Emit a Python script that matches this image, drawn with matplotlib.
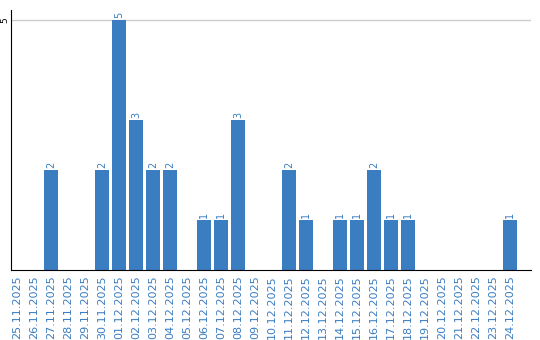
import matplotlib
matplotlib.use('Agg')
import matplotlib.pyplot as plt

dates = ['25.11.2025', '26.11.2025', '27.11.2025', '28.11.2025', '29.11.2025',
         '30.11.2025', '01.12.2025', '02.12.2025', '03.12.2025', '04.12.2025',
         '05.12.2025', '06.12.2025', '07.12.2025', '08.12.2025', '09.12.2025',
         '10.12.2025', '11.12.2025', '12.12.2025', '13.12.2025', '14.12.2025',
         '15.12.2025', '16.12.2025', '17.12.2025', '18.12.2025', '19.12.2025',
         '20.12.2025', '21.12.2025', '22.12.2025', '23.12.2025', '24.12.2025']
counts = [0, 0, 2, 0, 0, 2, 5, 3, 2, 2, 0, 1, 1, 3, 0,
          0, 2, 1, 0, 1, 1, 2, 1, 1, 0, 0, 0, 0, 0, 1]

blue = '#3b7dc1'

fig = plt.figure(figsize=(5.4, 3.4), dpi=100)
ax = fig.add_axes([11 / 540, 70 / 340, 520 / 540, 260 / 340])

x = list(range(len(dates)))
ax.bar(x, counts, width=0.82, color=blue, zorder=2)

# value labels on top of non-empty bars
for xi, c in zip(x, counts):
    if c > 0:
        ax.text(xi, c + 0.04, str(c), rotation=90, ha='center', va='bottom',
                fontsize=7, color=blue)

ax.set_xlim(-0.35, 30.24)
ax.set_ylim(0, 5.2)
ax.set_xticks(x)
ax.set_xticklabels(dates, rotation=90, fontsize=8, color=blue)
ax.set_yticks([5])
ax.set_yticklabels(['5'], rotation=90, fontsize=6.5, va='center')
ax.tick_params(axis='x', length=0, pad=4)
ax.tick_params(axis='y', length=0, pad=1)
ax.yaxis.grid(True, color='#cccccc', lw=1, zorder=0)

ax.spines['top'].set_visible(False)
ax.spines['right'].set_visible(False)
ax.spines['left'].set_color('black')
ax.spines['bottom'].set_color('black')

plt.savefig('out.png', dpi=100, facecolor='white')
